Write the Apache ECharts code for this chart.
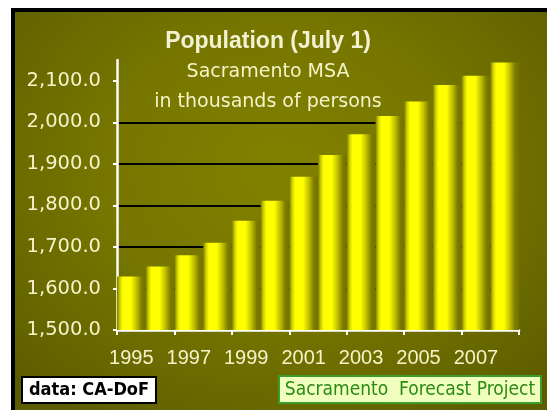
<!DOCTYPE html>
<html>
<head>
<meta charset="utf-8">
<script src="https://cdn.jsdelivr.net/npm/echarts@6/dist/echarts.min.js"></script>
<style>
  html, body { margin: 0; padding: 0; background: #ffffff; width: 547px; height: 410px; overflow: hidden; }
  #panel {
    position: absolute; left: 11px; top: 8px; width: 532px; height: 398px;
    border-left: 4px solid #000; border-top: 4px solid #000;
    background: radial-gradient(ellipse 70% 75% at 50% 40%, #818100 0%, #777700 45%, #676700 80%, #5c5c00 100%);
  }
  #chart { position: absolute; left: 0; top: 0; width: 547px; height: 410px; }
</style>
</head>
<body>
<div id="panel"></div>
<div id="chart"></div>
<script>
const years = ['1995','1996','1997','1998','1999','2000','2001','2002','2003','2004','2005','2006','2007','2008'];
const population = [1629, 1653, 1680, 1710, 1763, 1811, 1869, 1921, 1971, 2015, 2050, 2090, 2112, 2144];
const yTicks = [1500, 1600, 1700, 1800, 1900, 2000, 2100];
const titleText = 'Population (July 1)';
const subLines = ['Sacramento MSA', 'in thousands of persons'];
const sourceText = 'data: CA-DoF';
const creditText = 'Sacramento  Forecast Project';

const cream = '#f4f4c8';
const chart = echarts.init(document.getElementById('chart'), null, { renderer: 'canvas' });

function fmt(v) {
  return Number(v).toLocaleString('en-US', { minimumFractionDigits: 1, maximumFractionDigits: 1 });
}

chart.setOption({
  backgroundColor: 'transparent',
  animation: false,
  grid: { left: 117, right: 28, top: 60, bottom: 80, containLabel: false },
  xAxis: {
    type: 'category',
    data: years,
    axisLine: { show: true, lineStyle: { color: '#ffffff', width: 2.5 } },
    axisTick: { show: true, length: 5, lineStyle: { color: '#ffffff', width: 2 } },
    axisLabel: { interval: 1, color: cream, fontSize: 20, fontFamily: 'Liberation Sans', margin: 18 },
    splitLine: { show: false }
  },
  yAxis: {
    type: 'value',
    min: 1500, max: 2150, interval: 100,
    axisLine: { show: true, lineStyle: { color: '#ffffff', width: 2.5 } },
    axisTick: { show: true, length: 4, customValues: yTicks, lineStyle: { color: '#ffffff', width: 2 } },
    axisLabel: { customValues: yTicks, color: cream, fontSize: 19.5, fontFamily: 'DejaVu Sans', margin: 16, formatter: fmt },
    splitLine: { show: true, showMaxLine: false, lineStyle: { color: '#000000', width: 2 } }
  },
  series: [{
    type: 'bar',
    data: population,
    barWidth: '100%',
    itemStyle: {
      color: new echarts.graphic.LinearGradient(0, 0, 1, 0, [
        { offset: 0, color: '#7a7a00' },
        { offset: 0.1, color: '#d0d000' },
        { offset: 0.2, color: '#ffff00' },
        { offset: 0.48, color: '#ffff00' },
        { offset: 0.68, color: '#c0c000' },
        { offset: 0.86, color: '#7c7c00' },
        { offset: 1, color: '#727200' }
      ])
    }
  }],
  graphic: [
    { type: 'text', x: 268, y: 42, style: { text: titleText, fill: '#f2f2d2', font: 'bold 23px "Liberation Sans"', textAlign: 'center', textVerticalAlign: 'middle' } },
    { type: 'text', x: 268, y: 72, style: { text: subLines[0], fill: cream, font: '19px "DejaVu Sans"', textAlign: 'center', textVerticalAlign: 'middle' } },
    { type: 'text', x: 268, y: 102, style: { text: subLines[1], fill: cream, font: '19px "DejaVu Sans"', textAlign: 'center', textVerticalAlign: 'middle' } },
    { type: 'rect', shape: { x: 22, y: 377, width: 134, height: 26 }, style: { fill: '#ffffff', stroke: '#000000', lineWidth: 2 } },
    { type: 'text', x: 89, y: 390, style: { text: sourceText, fill: '#000000', font: 'bold 18px "DejaVu Sans Condensed"', textAlign: 'center', textVerticalAlign: 'middle' } },
    { type: 'rect', shape: { x: 279, y: 376, width: 262, height: 27 }, style: { fill: '#f0ffbe', stroke: '#3c9c2c', lineWidth: 2 } },
    { type: 'text', x: 410, y: 390, style: { text: creditText, fill: '#2a8a14', font: '19px "DejaVu Sans Condensed"', textAlign: 'center', textVerticalAlign: 'middle' } }
  ]
});
</script>
</body>
</html>
